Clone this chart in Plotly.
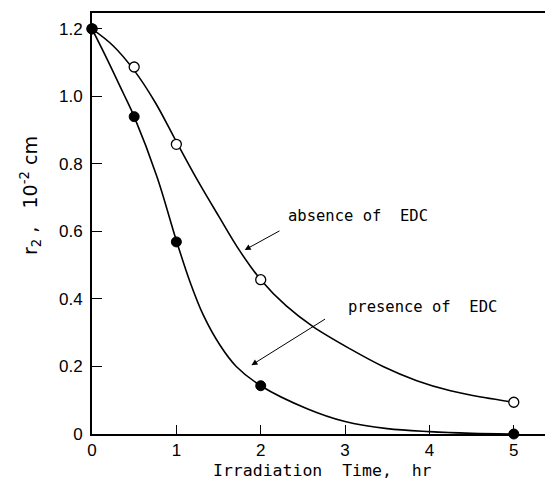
import plotly.graph_objects as go

# measured points
time_pts = [0, 0.5, 1, 2, 5]
r2_absence = [1.2, 1.087, 0.858, 0.457, 0.094]
r2_presence = [1.2, 0.94, 0.569, 0.143, 0.0]

# smooth curves
curve_abs_x = [0, 0.25, 0.5, 0.75, 1, 1.25, 1.5, 1.75, 2, 2.3, 2.62, 3.06, 3.45, 3.85, 4.25, 4.65, 5]
curve_abs_y = [1.2, 1.15, 1.077, 0.982, 0.866, 0.752, 0.646, 0.543, 0.457, 0.38, 0.318, 0.252, 0.2, 0.158, 0.128, 0.108, 0.094]
curve_pre_x = [0, 0.17, 0.37, 0.5, 0.77, 1, 1.16, 1.32, 1.52, 1.71, 2, 2.55, 3, 3.5, 4, 4.5, 5]
curve_pre_y = [1.2, 1.115, 1.01, 0.94, 0.762, 0.573, 0.452, 0.352, 0.262, 0.2, 0.143, 0.075, 0.037, 0.016, 0.007, 0.002, 0.0]

x_ticks = [0, 1, 2, 3, 4, 5]
y_ticks = [0, 0.2, 0.4, 0.6, 0.8, 1.0, 1.2]
y_ticktext = ["0", "0.2", "0.4", "0.6", "0.8", "1.0", "1.2"]

fig = go.Figure()
for cx, cy in [(curve_abs_x, curve_abs_y), (curve_pre_x, curve_pre_y)]:
    fig.add_trace(go.Scatter(x=cx, y=cy, mode="lines",
                             line=dict(color="black", width=1.6, shape="spline", smoothing=1.0),
                             showlegend=False, cliponaxis=False, hoverinfo="skip"))
fig.add_trace(go.Scatter(x=time_pts, y=r2_absence, mode="markers",
                         marker=dict(symbol="circle", size=10, color="white",
                                     line=dict(color="black", width=1.3)),
                         showlegend=False, cliponaxis=False))
fig.add_trace(go.Scatter(x=time_pts, y=r2_presence, mode="markers",
                         marker=dict(symbol="circle", size=10, color="black",
                                     line=dict(color="black", width=1)),
                         showlegend=False, cliponaxis=False))

tick_font = dict(family="Liberation Sans, Arial, sans-serif", size=17, color="black")
mono = "DejaVu Sans Mono, monospace"

fig.update_layout(
    width=545, height=481,
    margin=dict(l=92, r=0, t=13, b=47),
    paper_bgcolor="white", plot_bgcolor="white",
    xaxis=dict(range=[0, 5.37], tickvals=x_ticks, ticks="inside", ticklen=9,
               tickwidth=1.3, tickcolor="black", showline=True, linecolor="black",
               linewidth=2, mirror=True, showgrid=False, zeroline=False,
               tickfont=tick_font),
    yaxis=dict(range=[0, 1.247], tickvals=y_ticks, ticktext=y_ticktext,
               ticks="inside", ticklen=10, tickwidth=1.3, tickcolor="black",
               showline=True, linecolor="black", linewidth=2, showgrid=False,
               zeroline=False, tickfont=tick_font, ticklabelstandoff=4),
    annotations=[
        dict(text="Irradiation  Time,  hr", xref="paper", yref="paper",
             x=(322 - 92) / 453, y=-(470 - 434) / 421, showarrow=False,
             font=dict(family=mono, size=16.5, color="black"),
             xanchor="center", yanchor="middle"),
        dict(text="r<sub>2</sub> ,   10<sup>-2</sup> cm", xref="paper", yref="paper",
             x=(30 - 92) / 453, y=(434 - 196) / 421, showarrow=False, textangle=-90,
             font=dict(family="DejaVu Sans, sans-serif", size=19, color="black"),
             xanchor="center", yanchor="middle"),
        dict(text="absence of  EDC", x=3.15, y=0.646, xref="x", yref="y",
             showarrow=False, font=dict(family=mono, size=15.5, color="black")),
        dict(text="", x=1.81, y=0.545, ax=2.24, ay=0.604, xref="x", yref="y",
             axref="x", ayref="y", showarrow=True, arrowhead=2, arrowsize=1.2,
             arrowwidth=1, arrowcolor="black"),
        dict(text="presence of  EDC", x=3.92, y=0.376, xref="x", yref="y",
             showarrow=False, font=dict(family=mono, size=15.5, color="black")),
        dict(text="", x=1.89, y=0.204, ax=2.78, ay=0.343, xref="x", yref="y",
             axref="x", ayref="y", showarrow=True, arrowhead=2, arrowsize=1.2,
             arrowwidth=1, arrowcolor="black"),
    ],
)

fig.write_html("out.html")
